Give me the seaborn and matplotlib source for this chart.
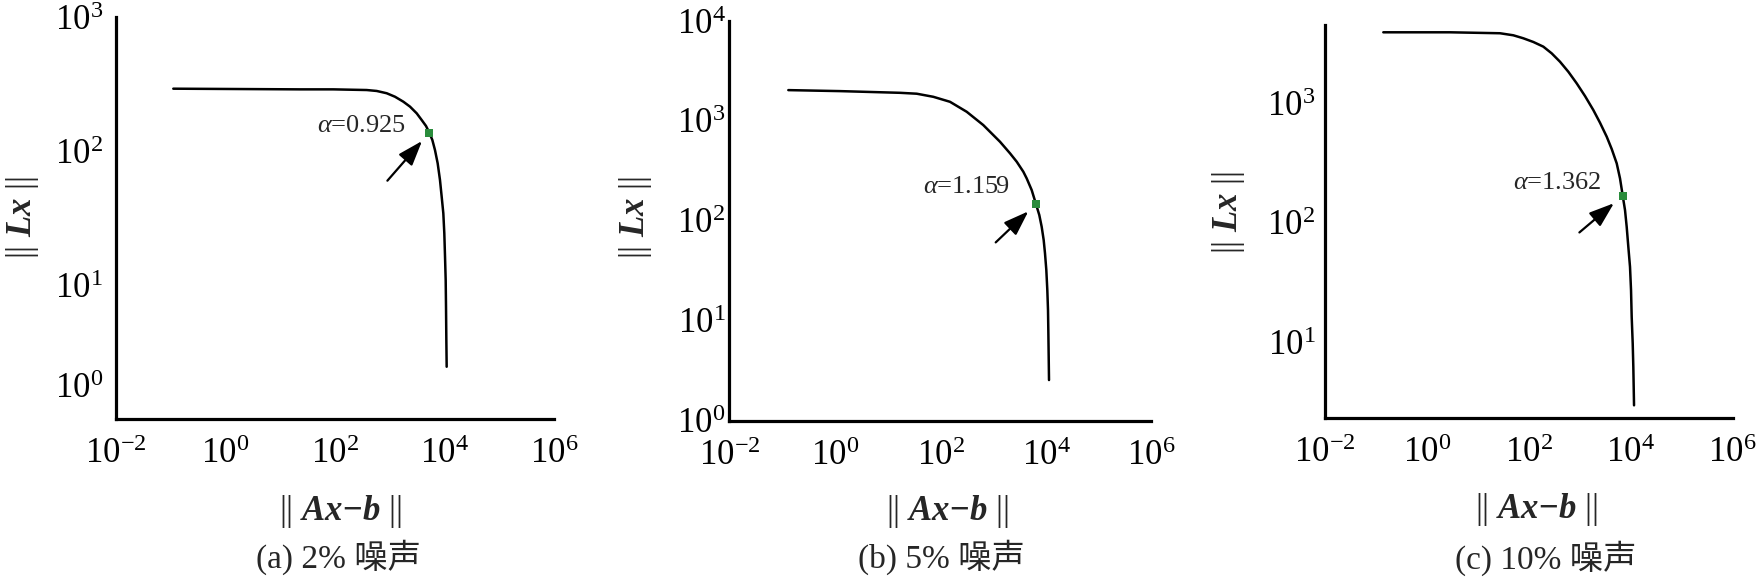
import numpy as np
import pandas as pd
import matplotlib
matplotlib.use("Agg")
import matplotlib.pyplot as plt
import matplotlib.ticker as mticker
from matplotlib.transforms import ScaledTranslation
import seaborn as sns

# ---------------- data (log10 values) ----------------
p1_log_resid = [-0.947, 1.362, 1.969, 2.578, 2.760, 2.942, 3.093, 3.245, 3.367, 3.489, 3.580, 3.658,
                3.719, 3.774, 3.822, 3.871, 3.913, 3.944, 3.974, 3.992, 4.005, 4.017, 4.023, 4.029, 4.035]
p1_log_norm = [2.465, 2.460, 2.460, 2.455, 2.448, 2.431, 2.405, 2.368, 2.331, 2.281, 2.231, 2.187,
               2.137, 2.082, 2.007, 1.908, 1.784, 1.659, 1.535, 1.386, 1.211, 1.037, 0.838, 0.590, 0.390]

p2_log_resid = [-0.885, 0.095, 1.232, 1.549, 1.864, 2.180, 2.497, 2.811, 3.128, 3.318, 3.445, 3.570,
                3.634, 3.729, 3.810, 3.873, 3.918, 3.956, 3.981, 4.006, 4.025, 4.038, 4.044, 4.051, 4.057]
p2_log_norm = [3.308, 3.298, 3.281, 3.272, 3.241, 3.191, 3.091, 2.958, 2.791, 2.675, 2.591, 2.491,
               2.424, 2.307, 2.167, 2.057, 1.940, 1.807, 1.674, 1.507, 1.306, 1.106, 0.906, 0.639, 0.405]

p3_log_resid = [-0.856, 0.453, 1.434, 1.695, 1.891, 2.088, 2.284, 2.448, 2.611, 2.775, 2.939, 3.102,
                3.265, 3.396, 3.528, 3.626, 3.724, 3.789, 3.842, 3.887, 3.920, 3.952, 3.985, 4.005,
                4.018, 4.038, 4.050, 4.064]
p3_log_norm = [3.594, 3.594, 3.586, 3.569, 3.544, 3.513, 3.474, 3.418, 3.348, 3.264, 3.167, 3.061,
               2.944, 2.838, 2.721, 2.618, 2.498, 2.372, 2.227, 2.107, 1.967, 1.800, 1.633, 1.438,
               1.214, 0.992, 0.796, 0.475]

# chosen regularisation points (log10 residual, log10 norm) and their labels
corner_log_resid = [3.719, 3.810, 3.842]
corner_log_norm = [2.137, 2.167, 2.227]
alpha_values = ["0.925", "1.159", "1.362"]

captions = ["(a) 2% 噪声", "(b) 5% 噪声", "(c) 10% 噪声"]
x_ticks = [1e-2, 1e0, 1e2, 1e4, 1e6]
y_ticks = [[1e0, 1e1, 1e2, 1e3], [1e0, 1e1, 1e2, 1e3, 1e4], [1e1, 1e2, 1e3]]
y_limits = [(1e0, 1e3), (1e0, 1e4), (10 ** 0.369, 10 ** 3.655)]

# ---------------- style ----------------
sns.set_style("white")
plt.rcParams["font.family"] = ["Liberation Serif", "Noto Sans CJK SC", "DejaVu Sans"]
plt.rcParams["mathtext.fontset"] = "custom"
plt.rcParams["mathtext.rm"] = "Liberation Serif"
plt.rcParams["mathtext.it"] = "Liberation Serif:italic"
plt.rcParams["mathtext.bf"] = "Liberation Serif:bold:italic"
plt.rcParams["mathtext.fallback"] = "stix"
plt.rcParams["axes.unicode_minus"] = True

W, H = 1758, 582
fig = plt.figure(figsize=(W / 100, H / 100), dpi=100)
fig.patch.set_facecolor("white")

# axes boxes in pixels: left, right, top, bottom
boxes = [(115.5, 554.5, 17, 419), (729.5, 1151.5, 21, 420.5), (1325, 1732.7, 25, 418)]
ylabel_pos = [(-0.211, 0.500), (-0.223, 0.507), (-0.237, 0.523)]
xlabel_pos = [(0.513, -0.231), (0.516, -0.227), (0.5175, -0.234)]
caption_pos = [(338, 557), (941.6, 557), (1546, 558)]
ytick_pad = [9, 3, 7]
text_offsets = [(-16.8, 4.8), (-18.7, 12.5), (-15.1, 8.9)]
arrow_offsets = [(-30.2, -34.6), (-29.0, -27.6), (-31.2, -26.4)]
arrow_shrink = [8, 7.6, 8.3]

curves = [(p1_log_resid, p1_log_norm), (p2_log_resid, p2_log_norm), (p3_log_resid, p3_log_norm)]

for i, (lx, ly) in enumerate(curves):
    l, r, t, b = boxes[i]
    ax = fig.add_axes([l / W, (H - b) / H, (r - l) / W, (b - t) / H])
    df = pd.DataFrame({"resid": 10 ** np.array(lx), "norm": 10 ** np.array(ly)})
    sns.lineplot(data=df, x="resid", y="norm", ax=ax, color="black", lw=1.8,
                 sort=False, estimator=None)
    cdf = pd.DataFrame({"resid": [10 ** corner_log_resid[i]], "norm": [10 ** corner_log_norm[i]]})
    sns.scatterplot(data=cdf, x="resid", y="norm", ax=ax, marker="s", s=28,
                    color="#2a8c3c", edgecolor="#2a8c3c", linewidth=0, zorder=5)
    ax.set_xscale("log")
    ax.set_yscale("log")
    ax.set_xlim(1e-2, 1e6)
    ax.set_ylim(*y_limits[i])
    ax.set_xticks(x_ticks)
    ax.set_yticks(y_ticks[i])
    ax.xaxis.set_minor_locator(mticker.NullLocator())
    ax.yaxis.set_minor_locator(mticker.LogLocator(base=10, subs=np.arange(2, 10)))
    ax.yaxis.set_minor_formatter(mticker.NullFormatter())
    ax.xaxis.set_major_formatter(mticker.LogFormatterSciNotation())
    ax.yaxis.set_major_formatter(mticker.LogFormatterSciNotation())

    for s in ["top", "right"]:
        ax.spines[s].set_visible(False)
    for s in ["left", "bottom"]:
        ax.spines[s].set_linewidth(2.3)
        ax.spines[s].set_color("black")
    ax.tick_params(axis="both", which="major", direction="in", length=4, width=0.8,
                   color="#9a9a9a", labelsize=25, labelcolor="black")
    ax.tick_params(axis="y", which="minor", direction="in", length=2.5, width=0.6, color="#c0c0c0")
    ax.tick_params(axis="x", which="major", pad=14)
    ax.tick_params(axis="y", which="major", pad=ytick_pad[i])
    ax.grid(False)

    ax.set_xlabel(r"$||\ \mathbf{Ax{-}b}\ ||$", fontsize=25)
    ax.set_ylabel(r"$||\ \mathbf{Lx}\ ||$", fontsize=25)
    ax.xaxis.set_label_coords(*xlabel_pos[i])
    ax.xaxis.label.set(va="center", ha="center")
    ax.yaxis.set_label_coords(*ylabel_pos[i])
    ax.yaxis.label.set(va="center", ha="center", rotation_mode="default")

    mx, my = 10 ** corner_log_resid[i], 10 ** corner_log_norm[i]
    ax.annotate("", xy=(mx, my), xytext=arrow_offsets[i], textcoords="offset points",
                arrowprops=dict(arrowstyle="-|>,head_length=0.85,head_width=0.3",
                                mutation_scale=18, lw=1.6, color="black",
                                shrinkA=0, shrinkB=arrow_shrink[i]))
    ax.annotate(r"$\alpha$=" + alpha_values[i], xy=(mx, my), xytext=text_offsets[i],
                textcoords="offset points", ha="right", va="center", fontsize=19)

    if i == 0:
        # the 10^0 label sits above the corner in the original
        tick0 = ax.yaxis.get_major_ticks()[0]
        tick0.label1.set_transform(tick0.label1.get_transform() +
                                   ScaledTranslation(0, 0.33, fig.dpi_scale_trans))

    cx, cy = caption_pos[i]
    fig.text(cx / W, 1 - cy / H, captions[i], ha="center", va="center", fontsize=24)

fig.savefig("out.png", dpi=100, facecolor="white")
